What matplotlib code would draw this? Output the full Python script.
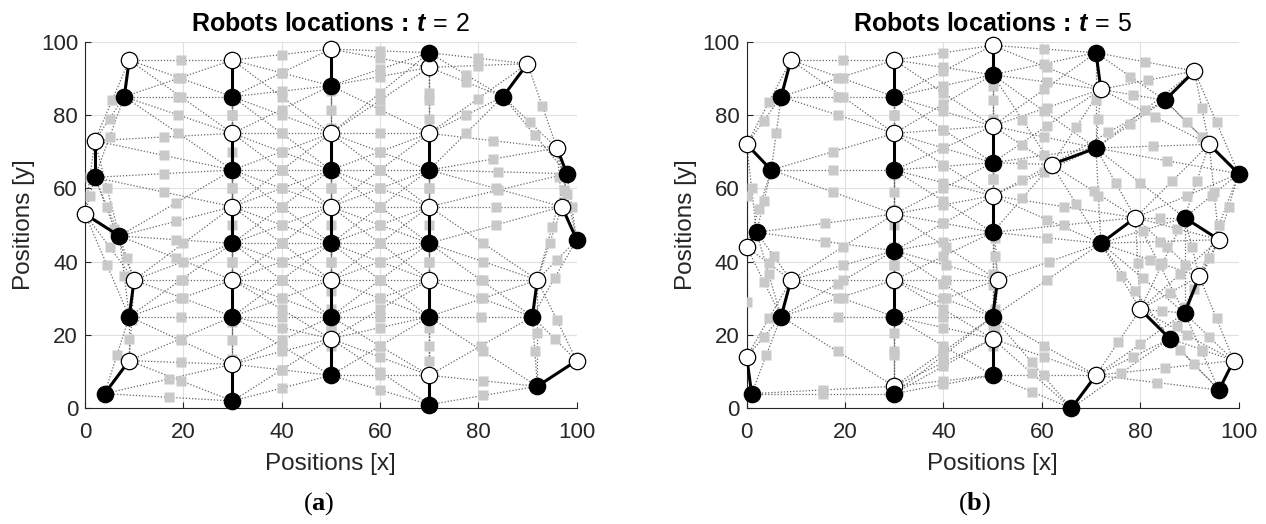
import numpy as np
import matplotlib.pyplot as plt
from matplotlib.collections import LineCollection

plt.rcParams['font.family'] = ['Liberation Sans', 'DejaVu Sans']
plt.rcParams['mathtext.fontset'] = 'custom'
plt.rcParams['mathtext.rm'] = 'Liberation Sans'
plt.rcParams['mathtext.bf'] = 'Liberation Sans:bold'
plt.rcParams['mathtext.it'] = 'Liberation Sans:bold:italic'
plt.rcParams['mathtext.sf'] = 'Liberation Serif:bold'

# communication range of a robot
COMM_RANGE = 30.0

# t = 2 : previous (white) and current (black) robot positions, same order
white_x_t2 = [9, 2, 0, 10, 9, 30, 30, 30, 30, 30, 50, 50, 50, 50, 50, 70, 70, 70, 70, 70, 90, 96, 97, 92, 100]
white_y_t2 = [95, 73, 53, 35, 13, 95, 75, 55, 35, 12, 98, 75, 55, 35, 19, 93, 75, 55, 35, 9, 94, 71, 55, 35, 13]
black_x_t2 = [8, 2, 7, 9, 4, 30, 30, 30, 30, 30, 50, 50, 50, 50, 50, 70, 70, 70, 70, 70, 85, 98, 100, 91, 92]
black_y_t2 = [85, 63, 47, 25, 4, 85, 65, 45, 25, 2, 88, 65, 45, 25, 9, 97, 65, 45, 25, 1, 85, 64, 46, 25, 6]

# t = 5
white_x_t5 = [9, 0, 0, 9, 0, 30, 30, 30, 30, 30, 50, 50, 50, 51, 50, 72, 91, 62, 94, 79, 96, 71, 80, 92, 99]
white_y_t5 = [95, 72, 44, 35, 14, 95, 75, 53, 35, 6, 99, 77, 58, 35, 19, 87, 92, 66.5, 72, 52, 46, 9, 27, 36, 13]
black_x_t5 = [7, 5, 2, 7, 1, 30, 30, 30, 30, 30, 50, 50, 50, 50, 50, 71, 85, 71, 100, 72, 89, 66, 86, 89, 96]
black_y_t5 = [85, 65, 48, 25, 4, 85, 65, 43, 25, 4, 91, 67, 48, 25, 9, 97, 84, 71, 64, 45, 52, 0, 19, 26, 5]

ticks = [0, 20, 40, 60, 80, 100]


def comm_links(wx, wy, bx, by):
    # links between all positions of different robots within range
    px = np.concatenate([wx, bx])
    py = np.concatenate([wy, by])
    owner = np.concatenate([np.arange(len(wx)), np.arange(len(bx))])
    segs = []
    for i in range(len(px)):
        for j in range(i + 1, len(px)):
            if owner[i] == owner[j]:
                continue
            if np.hypot(px[i] - px[j], py[i] - py[j]) <= COMM_RANGE:
                segs.append([(px[i], py[i]), (px[j], py[j])])
    return np.array(segs)


def draw_panel(ax, wx, wy, bx, by, t):
    wx, wy, bx, by = map(np.asarray, (wx, wy, bx, by))
    segs = comm_links(wx, wy, bx, by)
    lc = LineCollection(segs, colors='0.4', linewidths=0.9,
                        linestyles=[(0, (1, 1.5))], zorder=2)
    ax.add_collection(lc)
    mid = segs.mean(axis=1)
    ax.plot(mid[:, 0], mid[:, 1], 's', color='0.79', mec='none', ms=7.2, zorder=3)

    for i in range(len(wx)):
        ax.plot([wx[i], bx[i]], [wy[i], by[i]], '-', color='k', lw=2.2,
                zorder=4, solid_capstyle='round')
    ax.plot(wx, wy, 'o', mfc='white', mec='k', mew=0.9, ms=11.8,
            zorder=5, clip_on=False)
    ax.plot(bx, by, 'o', mfc='k', mec='k', mew=0.9, ms=11.8,
            zorder=6, clip_on=False)

    ax.set_xlim(0, 100)
    ax.set_ylim(0, 100)
    ax.set_xticks(ticks)
    ax.set_yticks(ticks)
    ax.grid(True, color='0.88', lw=0.8)
    ax.set_axisbelow(True)
    for side in ['top', 'right']:
        ax.spines[side].set_visible(False)
    for side in ['left', 'bottom']:
        ax.spines[side].set_color('0.15')
        ax.spines[side].set_linewidth(0.8)
    ax.tick_params(direction='in', length=4, color='0.15', labelcolor='0.15',
                   labelsize=16)
    ax.tick_params(axis='x', pad=10)
    ax.tick_params(axis='y', pad=5)
    ax.set_xlabel('Positions [x]', fontsize=17.5, color='0.15', labelpad=7)
    ax.set_ylabel('Positions [y]', fontsize=17.5, color='0.15', labelpad=4)
    ax.set_title(r'Robots locations : $\mathit{t}\,\mathrm{=}\,\mathrm{' + str(t) + '}$',
                 fontsize=18, fontweight='bold', pad=8)


fig = plt.figure(figsize=(12.66, 5.24), dpi=100)
ax1 = fig.add_axes([0.0671, 0.2208, 0.3884, 0.6996])
ax2 = fig.add_axes([0.5898, 0.2208, 0.3886, 0.6996])

draw_panel(ax1, white_x_t2, white_y_t2, black_x_t2, black_y_t2, 2)
draw_panel(ax2, white_x_t5, white_y_t5, black_x_t5, black_y_t5, 5)

fig.text(319 / 1266, 1 - 504 / 524, r'($\mathsf{a}$)', family='Liberation Serif',
         fontsize=19, ha='center', va='center')
fig.text(975 / 1266, 1 - 504 / 524, r'($\mathsf{b}$)', family='Liberation Serif',
         fontsize=19, ha='center', va='center')

fig.savefig('out.png', dpi=100)
